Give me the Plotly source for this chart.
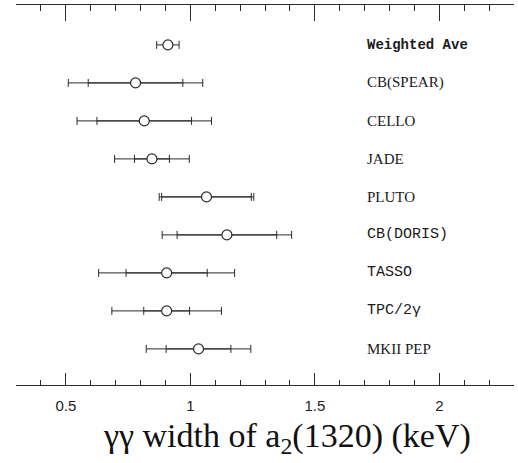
import plotly.graph_objects as go

# Measurements of the two-photon width of the a2(1320), top to bottom
experiments = ["Weighted Ave", "CB(SPEAR)", "CELLO", "JADE", "PLUTO",
               "CB(DORIS)", "TASSO", "TPC/2γ", "MKII PEP"]
width_kev = [0.91, 0.78, 0.815, 0.846, 1.065, 1.147, 0.905, 0.905, 1.033]
stat_err = [None, 0.19, 0.19, 0.07, 0.18, 0.20, 0.163, 0.092, 0.13]
total_err = [0.045, 0.27, 0.27, 0.15, 0.19, 0.26, 0.273, 0.22, 0.21]

label_fonts = ["Liberation Mono", "Liberation Serif", "Liberation Serif",
               "Liberation Serif", "Liberation Serif", "Liberation Mono",
               "Liberation Mono", "Liberation Mono", "Liberation Serif"]

n = len(experiments)
row = [n - i for i in range(n)]  # 9 at the top, 1 at the bottom

ink = "#2a2a2a"

fig = go.Figure()

# total error bars with end caps
fig.add_trace(go.Scatter(
    x=width_kev, y=row, mode="markers",
    marker=dict(size=1, color="rgba(0,0,0,0)"),
    error_x=dict(type="data", array=total_err, color=ink, thickness=1, width=4),
    hoverinfo="skip", showlegend=False,
))

# statistical error ticks
idx = [i for i in range(n) if stat_err[i] is not None]
fig.add_trace(go.Scatter(
    x=[width_kev[i] for i in idx], y=[row[i] for i in idx], mode="markers",
    marker=dict(size=1, color="rgba(0,0,0,0)"),
    error_x=dict(type="data", array=[stat_err[i] for i in idx], color=ink,
                 thickness=1, width=4),
    hoverinfo="skip", showlegend=False,
))

# central values
fig.add_trace(go.Scatter(
    x=width_kev, y=row, mode="markers",
    marker=dict(symbol="circle", size=10, color="white",
                line=dict(color=ink, width=1.2)),
    showlegend=False,
))

# companion trace for the mirrored top axis
fig.add_trace(go.Scatter(
    x=width_kev, y=row, xaxis="x2", mode="markers",
    marker=dict(size=1, color="rgba(0,0,0,0)"),
    hoverinfo="skip", showlegend=False,
))

for name, r, fnt in zip(experiments, row, label_fonts):
    bold = name == "Weighted Ave"
    fig.add_annotation(
        x=1.70, y=r, xref="x", yref="y", text=f"<b>{name}</b>" if bold else name,
        showarrow=False, xanchor="left", yanchor="middle",
        font=dict(family=fnt, size=15 if not bold else 14, color="#1a1a1a"),
    )

fig.add_annotation(
    x=0.544, y=-0.14, xref="paper", yref="paper",
    text="γγ width of a<sub>2</sub>(1320) (keV)",
    showarrow=False, xanchor="center", yanchor="middle",
    font=dict(family="Liberation Serif", size=34, color="#111"),
)

axis_common = dict(
    range=[0.3, 2.3], tick0=0.5, dtick=0.5, ticks="inside",
    showline=True, linecolor=ink, linewidth=1, tickcolor=ink, tickwidth=1,
    showgrid=False, zeroline=False,
)

fig.update_layout(
    width=518, height=463,
    margin=dict(l=16, r=4, t=5, b=78),
    paper_bgcolor="white", plot_bgcolor="white",
    xaxis=dict(**axis_common, ticklen=12,
               minor=dict(dtick=0.1, tick0=0.5, ticks="inside", ticklen=5,
                          tickcolor=ink, showgrid=False),
               tickfont=dict(family="Liberation Sans", size=15, color="#222"),
               ticklabelstandoff=7),
    xaxis2=dict(**axis_common, ticklen=16, side="top", overlaying="x",
                matches="x", showticklabels=False,
                minor=dict(dtick=0.1, tick0=0.5, ticks="inside", ticklen=6,
                           tickcolor=ink, showgrid=False)),
    yaxis=dict(range=[0.05, 10.05], visible=False, showgrid=False,
               zeroline=False),
)

fig.write_html("out.html")
